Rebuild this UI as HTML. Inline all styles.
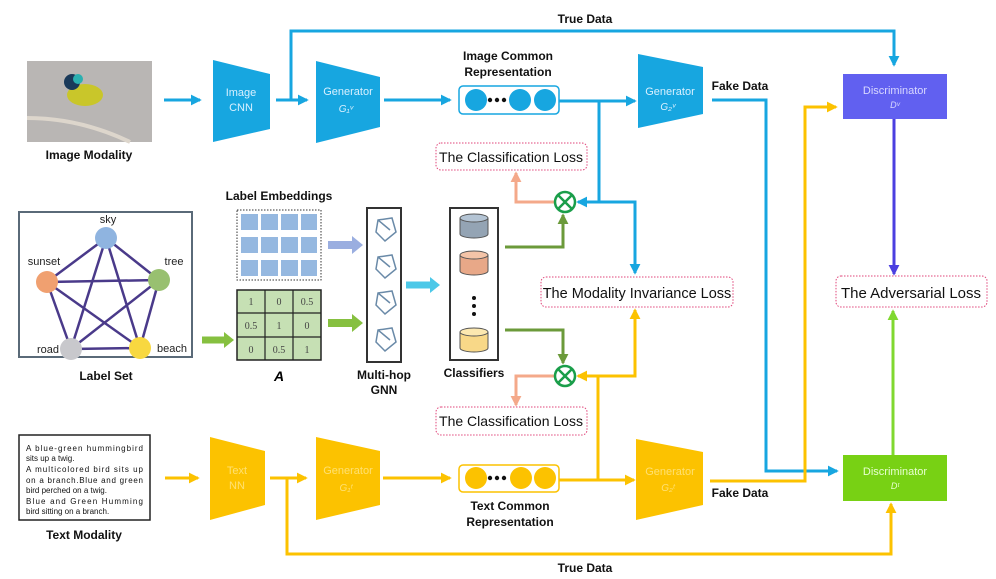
<!DOCTYPE html>
<html><head><meta charset="utf-8"><style>
body{margin:0;background:#fff}
svg{display:block;font-family:"Liberation Sans",sans-serif}
.b{font-weight:bold;font-size:12px;fill:#111}
</style></head><body>
<svg width="996" height="579" viewBox="0 0 996 579" xmlns="http://www.w3.org/2000/svg">
<defs>
<marker id="ab" viewBox="0 0 6 6" markerWidth="3.6" markerHeight="3.6" refX="5" refY="3" orient="auto"><path d="M0,0 L6,3 L0,6 z" fill="#17a6e0"/></marker>
<marker id="ay" viewBox="0 0 6 6" markerWidth="3.6" markerHeight="3.6" refX="5" refY="3" orient="auto"><path d="M0,0 L6,3 L0,6 z" fill="#fcc200"/></marker>
<marker id="ap" viewBox="0 0 6 6" markerWidth="3.6" markerHeight="3.6" refX="5" refY="3" orient="auto"><path d="M0,0 L6,3 L0,6 z" fill="#4b3fe0"/></marker>
<marker id="ag" viewBox="0 0 6 6" markerWidth="3.6" markerHeight="3.6" refX="5" refY="3" orient="auto"><path d="M0,0 L6,3 L0,6 z" fill="#80d830"/></marker>
<marker id="ao" viewBox="0 0 6 6" markerWidth="3.6" markerHeight="3.6" refX="5" refY="3" orient="auto"><path d="M0,0 L6,3 L0,6 z" fill="#f4a98a"/></marker>
<marker id="ad" viewBox="0 0 6 6" markerWidth="3.6" markerHeight="3.6" refX="5" refY="3" orient="auto"><path d="M0,0 L6,3 L0,6 z" fill="#6b9a3a"/></marker>
</defs>

<!-- image -->
<rect x="27" y="61" width="125" height="81" fill="#b9b6b4"/>
<path d="M27,118 Q80,118 130,142" stroke="#ddd6cc" stroke-width="4" fill="none"/>
<ellipse cx="85" cy="95" rx="18" ry="11" fill="#c9c62a"/>
<circle cx="72" cy="82" r="8" fill="#1a3a5a"/>
<circle cx="78" cy="79" r="5" fill="#2ab0b0"/>
<text class="b" x="89" y="159" text-anchor="middle">Image Modality</text>

<!-- top blue chain -->
<g stroke="#17a6e0" stroke-width="3" fill="none">
<line x1="164" y1="100" x2="200" y2="100" marker-end="url(#ab)"/>
<line x1="276" y1="100" x2="307" y2="100" marker-end="url(#ab)"/>
<polyline points="291,100 291,31 894,31 894,65" marker-end="url(#ab)"/>
<line x1="384" y1="100" x2="450" y2="100" marker-end="url(#ab)"/>
<line x1="559" y1="101" x2="635" y2="101" marker-end="url(#ab)"/>
<polyline points="599,101 599,202 578,202" marker-end="url(#ab)"/>
<polyline points="599,202 635,202 635,273" marker-end="url(#ab)"/>
<polyline points="712,100 766,100 766,471 837,471" marker-end="url(#ab)"/>
</g>
<polygon points="213,60 270,74 270,129 213,142" fill="#17a6e0"/>
<text x="241" y="96" fill="#d8f0ff" font-size="11" text-anchor="middle">Image</text>
<text x="241" y="111" fill="#d8f0ff" font-size="11" text-anchor="middle">CNN</text>
<polygon points="316,61 380,77 380,127 316,143" fill="#17a6e0"/>
<text x="348" y="95" fill="#d8f0ff" font-size="11" text-anchor="middle">Generator</text>
<text x="346" y="112" fill="#d8f0ff" font-size="10" font-style="italic" text-anchor="middle">G₁ᵛ</text>
<text class="b" x="508" y="60" text-anchor="middle">Image Common</text>
<text class="b" x="508" y="76" text-anchor="middle">Representation</text>
<rect x="459" y="86" width="100" height="28" rx="4" fill="#fff" stroke="#17a6e0" stroke-width="1.5"/>
<circle cx="476" cy="100" r="11" fill="#17a6e0"/>
<circle cx="520" cy="100" r="11" fill="#17a6e0"/>
<circle cx="545" cy="100" r="11" fill="#17a6e0"/>
<circle cx="490" cy="100" r="2.2" fill="#111"/><circle cx="497" cy="100" r="2.2" fill="#111"/><circle cx="504" cy="100" r="2.2" fill="#111"/>
<polygon points="638,54 703,67 703,114 638,128" fill="#17a6e0"/>
<text x="670" y="95" fill="#d8f0ff" font-size="11" text-anchor="middle">Generator</text>
<text x="668" y="110" fill="#d8f0ff" font-size="10" font-style="italic" text-anchor="middle">G₂ᵛ</text>
<text class="b" x="740" y="90" text-anchor="middle">Fake Data</text>
<text class="b" x="585" y="23" text-anchor="middle">True Data</text>

<!-- discriminators -->
<g stroke-width="3" fill="none">
<polyline points="710,481 805,481 805,107 836,107" stroke="#fcc200" marker-end="url(#ay)"/>
<line x1="894" y1="119" x2="894" y2="274" stroke="#4b3fe0" marker-end="url(#ap)"/>
<line x1="893" y1="455" x2="893" y2="311" stroke="#80d830" marker-end="url(#ag)"/>
<polyline points="287,478 287,554 891,554 891,504" stroke="#fcc200" marker-end="url(#ay)"/>
</g>
<rect x="843" y="74" width="104" height="45" fill="#6160f0"/>
<text x="895" y="94" fill="#d8d8ff" font-size="11" text-anchor="middle">Discriminator</text>
<text x="895" y="108" fill="#d8d8ff" font-size="9" font-style="italic" text-anchor="middle">Dᵛ</text>
<rect x="843" y="455" width="104" height="46" fill="#78d114"/>
<text x="895" y="475" fill="#e8ffd0" font-size="11" text-anchor="middle">Discriminator</text>
<text x="895" y="489" fill="#e8ffd0" font-size="9" font-style="italic" text-anchor="middle">Dᵗ</text>
<rect x="836" y="276" width="151" height="31" rx="5" fill="#fff" stroke="#e0457a" stroke-dasharray="1.5,1.5"/>
<text x="911" y="298" font-size="15" text-anchor="middle" fill="#111">The Adversarial Loss</text>

<!-- loss boxes -->
<rect x="436" y="143" width="151" height="27" rx="5" fill="#fff" stroke="#e0457a" stroke-dasharray="1.5,1.5"/>
<text x="511" y="162" font-size="14" text-anchor="middle" fill="#111">The Classification Loss</text>
<rect x="541" y="277" width="192" height="30" rx="5" fill="#fff" stroke="#e0457a" stroke-dasharray="1.5,1.5"/>
<text x="637" y="298" font-size="14.5" text-anchor="middle" fill="#111">The Modality Invariance Loss</text>
<rect x="436" y="407" width="151" height="28" rx="5" fill="#fff" stroke="#e0457a" stroke-dasharray="1.5,1.5"/>
<text x="511" y="426" font-size="14" text-anchor="middle" fill="#111">The Classification Loss</text>

<!-- branches to otimes -->
<g stroke-width="3" fill="none">
<polyline points="554,202 516,202 516,173" stroke="#f4a98a" marker-end="url(#ao)"/>
<polyline points="554,376 516,376 516,405" stroke="#f4a98a" marker-end="url(#ao)"/>
<polyline points="505,247 563,247 563,215" stroke="#6b9a3a" marker-end="url(#ad)"/>
<polyline points="505,330 563,330 563,363" stroke="#6b9a3a" marker-end="url(#ad)"/>
<polyline points="559,480 634,480" stroke="#fcc200" marker-end="url(#ay)"/>
<polyline points="598,480 598,376 578,376" stroke="#fcc200" marker-end="url(#ay)"/>
<polyline points="598,376 635,376 635,310" stroke="#fcc200" marker-end="url(#ay)"/>
</g>
<g stroke="#1a9e4a" stroke-width="2.5" fill="#fff">
<circle cx="565" cy="202" r="10"/><circle cx="565" cy="376" r="10"/>
<path d="M558,195 L572,209 M572,195 L558,209 M558,369 L572,383 M572,369 L558,383"/>
</g>

<!-- label set -->
<rect x="19" y="212" width="173" height="145" fill="#fff" stroke="#5a6a78" stroke-width="2"/>
<g stroke="#4a3a8a" stroke-width="2.5">
<line x1="106" y1="238" x2="47" y2="282"/><line x1="106" y1="238" x2="159" y2="280"/>
<line x1="106" y1="238" x2="71" y2="349"/><line x1="106" y1="238" x2="140" y2="348"/>
<line x1="47" y1="282" x2="159" y2="280"/><line x1="47" y1="282" x2="71" y2="349"/>
<line x1="47" y1="282" x2="140" y2="348"/><line x1="159" y1="280" x2="71" y2="349"/>
<line x1="159" y1="280" x2="140" y2="348"/><line x1="71" y1="349" x2="140" y2="348"/>
</g>
<circle cx="106" cy="238" r="11" fill="#8fb4e0"/><circle cx="47" cy="282" r="11" fill="#f0a070"/>
<circle cx="159" cy="280" r="11" fill="#98c070"/><circle cx="71" cy="349" r="11" fill="#c8c8cc"/>
<circle cx="140" cy="348" r="11" fill="#f8d840"/>
<g font-size="11" fill="#222" text-anchor="middle">
<text x="108" y="223">sky</text><text x="44" y="265">sunset</text><text x="174" y="265">tree</text>
<text x="48" y="353">road</text><text x="172" y="352">beach</text></g>
<text class="b" x="106" y="380" text-anchor="middle">Label Set</text>
<line x1="202" y1="340" x2="226" y2="340" stroke="#86c040" stroke-width="7"/>
<polygon points="224,332 234,340 224,348" fill="#86c040"/>

<!-- embeddings -->
<text class="b" x="279" y="200" text-anchor="middle">Label Embeddings</text>
<rect x="237" y="210" width="84" height="70" fill="#fff" stroke="#333" stroke-dasharray="1.5,1.5"/>
<g fill="#95b8e0">
<rect x="241" y="214" width="17" height="16"/><rect x="261" y="214" width="17" height="16"/><rect x="281" y="214" width="17" height="16"/><rect x="301" y="214" width="16" height="16"/>
<rect x="241" y="237" width="17" height="16"/><rect x="261" y="237" width="17" height="16"/><rect x="281" y="237" width="17" height="16"/><rect x="301" y="237" width="16" height="16"/>
<rect x="241" y="260" width="17" height="16"/><rect x="261" y="260" width="17" height="16"/><rect x="281" y="260" width="17" height="16"/><rect x="301" y="260" width="16" height="16"/>
</g>
<rect x="237" y="290" width="84" height="70" fill="#c6e0b4" stroke="#222" stroke-width="1.5"/>
<g stroke="#222" stroke-width="1.2"><line x1="265" y1="290" x2="265" y2="360"/><line x1="293" y1="290" x2="293" y2="360"/><line x1="237" y1="313" x2="321" y2="313"/><line x1="237" y1="337" x2="321" y2="337"/></g>
<g font-size="10" fill="#444" text-anchor="middle" font-family="Liberation Serif,serif">
<text x="251" y="305">1</text><text x="279" y="305">0</text><text x="307" y="305">0.5</text>
<text x="251" y="329">0.5</text><text x="279" y="329">1</text><text x="307" y="329">0</text>
<text x="251" y="353">0</text><text x="279" y="353">0.5</text><text x="307" y="353">1</text></g>
<text x="279" y="381" font-weight="bold" font-style="italic" font-size="14" text-anchor="middle">A</text>
<line x1="328" y1="245" x2="354" y2="245" stroke="#9aaee0" stroke-width="8"/><polygon points="352,236 363,245 352,254" fill="#9aaee0"/>
<line x1="328" y1="323" x2="354" y2="323" stroke="#86c040" stroke-width="8"/><polygon points="352,314 363,323 352,332" fill="#86c040"/>

<!-- GNN -->
<rect x="367" y="208" width="34" height="154" fill="#fff" stroke="#333" stroke-width="2"/>
<g stroke="#6a8aa8" stroke-width="1.5" fill="none">
<path d="M378,220 L392,218 L396,232 L385,241 L376,232 Z M378,220 L390,230"/>
<path d="M378,257 L392,255 L396,269 L385,278 L376,269 Z M378,257 L390,267"/>
<path d="M378,293 L392,291 L396,305 L385,314 L376,305 Z M378,293 L390,303"/>
<path d="M378,330 L392,328 L396,342 L385,351 L376,342 Z M378,330 L390,340"/>
</g>
<text class="b" x="384" y="379" text-anchor="middle">Multi-hop</text>
<text class="b" x="384" y="394" text-anchor="middle">GNN</text>
<line x1="406" y1="285" x2="432" y2="285" stroke="#4cc8e8" stroke-width="7"/><polygon points="430,277 440,285 430,293" fill="#4cc8e8"/>

<!-- classifiers -->
<rect x="450" y="208" width="48" height="152" fill="#fff" stroke="#333" stroke-width="2"/>
<g stroke="#555" stroke-width="1">
<path d="M460,218 v16 a14,4 0 0 0 28,0 v-16" fill="#94a4b4"/><ellipse cx="474" cy="218" rx="14" ry="4" fill="#b4c4d4"/>
<path d="M460,255 v16 a14,4 0 0 0 28,0 v-16" fill="#e8a888"/><ellipse cx="474" cy="255" rx="14" ry="4" fill="#f4c4a8"/>
<path d="M460,332 v16 a14,4 0 0 0 28,0 v-16" fill="#f8d888"/><ellipse cx="474" cy="332" rx="14" ry="4" fill="#fce8b0"/>
</g>
<circle cx="474" cy="298" r="2" fill="#111"/><circle cx="474" cy="306" r="2" fill="#111"/><circle cx="474" cy="314" r="2" fill="#111"/>
<text class="b" x="474" y="377" text-anchor="middle">Classifiers</text>

<!-- text modality -->
<rect x="19" y="435" width="131" height="85" fill="#fff" stroke="#222" stroke-width="1.5"/>
<g font-size="8" fill="#111">
<text x="26" y="451" textLength="117" lengthAdjust="spacing">A  blue-green  hummingbird</text>
<text x="26" y="461">sits up a twig.</text>
<text x="26" y="472" textLength="117" lengthAdjust="spacing">A multicolored bird sits up</text>
<text x="26" y="483" textLength="117" lengthAdjust="spacing">on a branch.Blue and green</text>
<text x="26" y="493">bird perched on a twig.</text>
<text x="26" y="504" textLength="117" lengthAdjust="spacing">Blue  and  Green  Humming</text>
<text x="26" y="514">bird sitting on a branch.</text>
</g>
<text class="b" x="84" y="539" text-anchor="middle">Text Modality</text>
<g stroke="#fcc200" stroke-width="3" fill="none">
<line x1="165" y1="478" x2="198" y2="478" marker-end="url(#ay)"/>
<line x1="270" y1="478" x2="306" y2="478" marker-end="url(#ay)"/>
<line x1="383" y1="478" x2="450" y2="478" marker-end="url(#ay)"/>
</g>
<polygon points="210,437 265,451 265,505 210,520" fill="#fcc200"/>
<text x="237" y="474" fill="#ffe070" font-size="11" text-anchor="middle">Text</text>
<text x="237" y="489" fill="#ffe070" font-size="11" text-anchor="middle">NN</text>
<polygon points="316,437 380,451 380,505 316,520" fill="#fcc200"/>
<text x="348" y="474" fill="#ffe070" font-size="11" text-anchor="middle">Generator</text>
<text x="346" y="491" fill="#ffe070" font-size="10" font-style="italic" text-anchor="middle">G₁ᵗ</text>
<rect x="459" y="465" width="100" height="27" rx="4" fill="#fff" stroke="#fcc200" stroke-width="1.5"/>
<circle cx="476" cy="478" r="11" fill="#fcc200"/><circle cx="521" cy="478" r="11" fill="#fcc200"/><circle cx="545" cy="478" r="11" fill="#fcc200"/>
<circle cx="490" cy="478" r="2.2" fill="#111"/><circle cx="497" cy="478" r="2.2" fill="#111"/><circle cx="504" cy="478" r="2.2" fill="#111"/>
<text class="b" x="510" y="510" text-anchor="middle">Text Common</text>
<text class="b" x="510" y="526" text-anchor="middle">Representation</text>
<polygon points="636,439 703,452 703,505 636,520" fill="#fcc200"/>
<text x="670" y="475" fill="#ffe070" font-size="11" text-anchor="middle">Generator</text>
<text x="668" y="491" fill="#ffe070" font-size="10" font-style="italic" text-anchor="middle">G₂ᵗ</text>
<text class="b" x="740" y="497" text-anchor="middle">Fake Data</text>
<text class="b" x="585" y="572" text-anchor="middle">True Data</text>
</svg>
</body></html>
